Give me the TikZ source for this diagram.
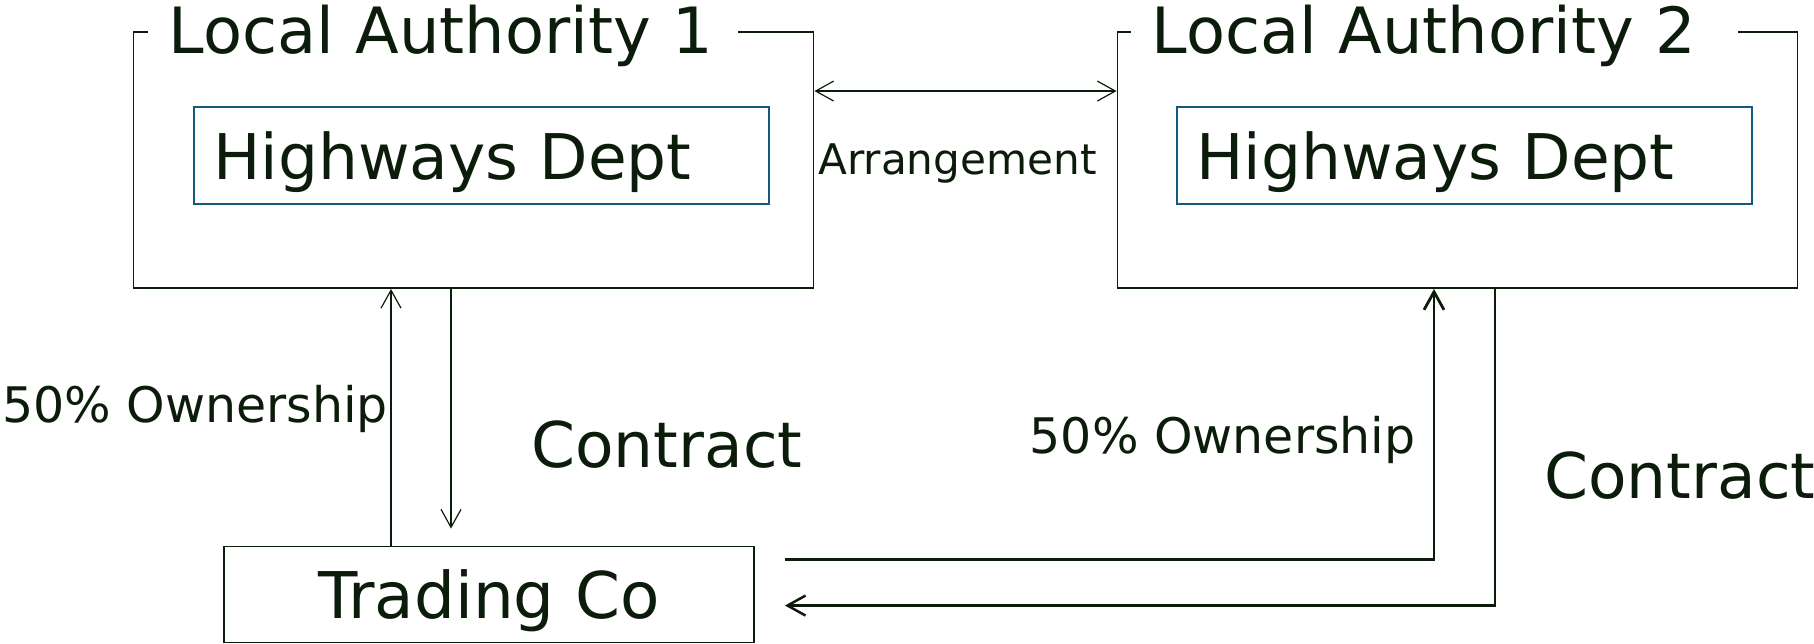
\documentclass[tikz,border=0pt]{standalone}
\usepackage{fontspec}
\setmainfont{DejaVu Sans}
\usetikzlibrary{arrows.meta, positioning}
\definecolor{inkgreen}{RGB}{12, 28, 10}
\definecolor{deptblue}{RGB}{20, 90, 125}
\newcommand{\boxfont}{\fontsize{31.5}{36}\selectfont}
\newcommand{\titlefont}{\fontsize{31.9}{36}\selectfont}
\newcommand{\tradefont}{\fontsize{32.2}{36}\selectfont}
\newcommand{\linkfont}{\fontsize{24.5}{28}\selectfont}
\newcommand{\arrfont}{\fontsize{21.1}{24}\selectfont}
\tikzset{
    basicbox/.style={
        rectangle, draw=inkgreen, line width=0.95pt, fill=white,
        text=inkgreen, inner sep=0pt
    },
    arrow/.style={-{Straight Barb[length=9pt, width=10pt]}, line width=0.6pt, color=inkgreen},
    biarrow/.style={arrows={Straight Barb[length=9pt, width=10pt]-Straight Barb[length=9pt, width=10pt]}, line width=0.6pt, color=inkgreen},
}
\begin{document}
\begin{tikzpicture}[x=0.5pt, y=-0.5pt]
    \tikzstyle{authbox}=[basicbox, minimum width=340pt, minimum height=128pt]
    \tikzstyle{titlebox}=[fill=white, text=inkgreen, font=\titlefont, align=left, inner xsep=10.5pt, inner ysep=2pt, anchor=base west]
    \tikzstyle{deptbox}=[basicbox, draw=deptblue, font=\boxfont, text width=267.9pt, align=left, inner xsep=9.8pt, minimum height=48.5pt, text depth=0pt]
    \tikzstyle{tradebox}=[basicbox, font=\tradefont, minimum width=265pt, minimum height=48pt, text depth=0pt]
    \tikzstyle{linklabel}=[text=inkgreen, inner sep=0pt]
    \useasboundingbox (0,0) rectangle (1814,643);

    % Local Authorities
    \node[authbox] (la1) at (473.5,160) {};
    \node[titlebox, text width=274pt] (title1) at ([xshift=7.5pt, yshift=-11pt]la1.north west) {Local Authority 1};
    \node[deptbox] (hd1) at (481.5,155.5) {Highways Dept};

    \node[authbox] (la2) at (1457.5,160) {};
    \node[titlebox, text width=282.5pt] (title2) at ([xshift=7pt, yshift=-11pt]la2.north west) {Local Authority 2};
    \node[deptbox] (hd2) at (1464.5,155.5) {Highways Dept};

    % Trading Company
    \node[tradebox] (tc) at (489,594.5) {Trading Co};

    % Labels
    \node[linklabel, font=\arrfont, anchor=base] (arr) at (957.5,174.5) {Arrangement};
    \node[linklabel, font=\linkfont, anchor=base east] (own1) at (388.5,422) {50\% Ownership};
    \node[linklabel, font=\boxfont, anchor=base west] (con1) at (531,467) {Contract};
    \node[linklabel, font=\linkfont, anchor=base east] (own2) at (1416,453) {50\% Ownership};
    \node[linklabel, font=\boxfont, anchor=base west] (con2) at (1544,498) {Contract};

    % Connectors
    \draw[biarrow] ([yshift=-30pt]la1.north east) -- ([yshift=-30pt]la2.north west);
    \draw[arrow] ([xshift=-49pt]tc.north) -- ([xshift=-49pt]tc.north |- la1.south);
    \draw[arrow] ([xshift=-11.25pt]la1.south) -- ([xshift=-11.25pt, yshift=8.5pt]la1.south |- tc.north);
    \draw[arrow, line width=1.4pt] ([xshift=15pt, yshift=-7pt]tc.north east) -| ([xshift=-11.75pt]la2.south);
    \draw[arrow, line width=1.25pt] ([xshift=18.75pt]la2.south) |- ([xshift=15pt, yshift=-30pt]tc.north east);
\end{tikzpicture}
\end{document}
